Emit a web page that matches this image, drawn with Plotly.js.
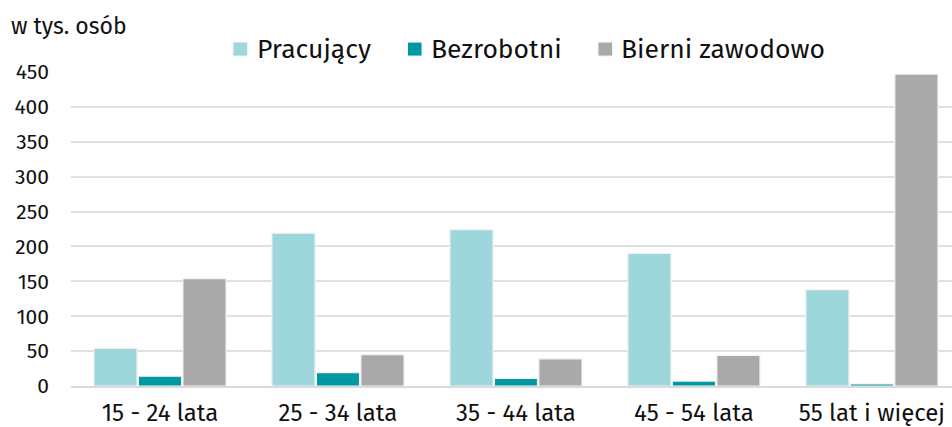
<!DOCTYPE html>
<html>
<head>
<meta charset="utf-8">
<script src="https://cdn.plot.ly/plotly-3.0.1.min.js"></script>
<style>html,body{margin:0;padding:0;background:#fff;}#chart{width:952px;height:427px;}</style>
</head>
<body>
<div id="chart"></div>
<script>
const categories = ["15 - 24 lata", "25 - 34 lata", "35 - 44 lata", "45 - 54 lata", "55 lat i więcej"];
const seriesNames = ["Pracujący", "Bezrobotni", "Bierni zawodowo"];
const pracujacy = [54, 219, 224, 190, 138];
const bezrobotni = [14, 19, 11, 7, 3];
const bierni = [154, 45, 39, 44, 447];
const yTicks = [0, 50, 100, 150, 200, 250, 300, 350, 400, 450];
const colors = ["#9dd7db", "#0099a3", "#a9a9a9"];

const FONT = "'Fira Sans', 'Noto Sans', 'Open Sans', sans-serif";
const vals = [pracujacy, bezrobotni, bierni];
const traces = vals.map((v, i) => ({
  type: 'bar',
  name: seriesNames[i],
  x: categories,
  y: v,
  marker: {color: colors[i], line: {color: '#f3f3f3', width: 1.2}},
  hoverinfo: 'x+y+name',
  showlegend: false
}));

// custom legend layout (pixel positions converted to paper coordinates)
const ML = 71, MT = 71.5, PW = 881, PH = 315, BASE = 386.5;
const px2x = p => (p - ML) / PW;
const py2y = p => (BASE - p) / PH;
const legendSquareX = [233, 407.5, 598];
const legendTextX = [255, 429, 619];
const shapes = [], annotations = [];
seriesNames.forEach((n, i) => {
  shapes.push({type: 'rect', xref: 'paper', yref: 'paper',
    x0: px2x(legendSquareX[i]), x1: px2x(legendSquareX[i] + 14.5),
    y0: py2y(55.5), y1: py2y(41.5),
    fillcolor: colors[i], line: {color: '#f3f3f3', width: 1}});
  annotations.push({text: n, xref: 'paper', yref: 'paper',
    x: px2x(legendTextX[i]), y: py2y(48), xanchor: 'left', yanchor: 'middle',
    showarrow: false, font: {size: 26.5, family: FONT, color: '#111'}});
});
annotations.push({
  text: 'w tys. osób', xref: 'paper', yref: 'paper',
  x: -0.0704, y: 1.147, xanchor: 'left', yanchor: 'middle',
  showarrow: false, font: {size: 23, family: FONT, color: '#111'}
});

const layout = {
  width: 952, height: 427,
  margin: {l: 71, r: 0, t: 71.5, b: 40.5},
  paper_bgcolor: '#fff', plot_bgcolor: '#fff',
  font: {family: FONT, color: '#111', size: 21},
  barmode: 'group',
  bargap: 0.25,
  bargroupgap: 0.03,
  showlegend: false,
  xaxis: {
    type: 'category',
    range: [-0.5, 4.45],
    showgrid: false,
    showline: true, linecolor: '#d9d9d9', linewidth: 2,
    ticks: '', tickfont: {size: 24}, ticklabelstandoff: 4,
    fixedrange: true
  },
  yaxis: {
    range: [0, 450],
    tickvals: yTicks,
    ticktext: yTicks.map(String),
    showgrid: true, gridcolor: '#e0e0e0', gridwidth: 2,
    zeroline: false, showline: false,
    ticks: '', ticklabelstandoff: 21,
    tickfont: {size: 21},
    fixedrange: true
  },
  shapes: shapes,
  annotations: annotations
};

Plotly.newPlot('chart', traces, layout, {displayModeBar: false, staticPlot: true});
</script>
</body>
</html>
